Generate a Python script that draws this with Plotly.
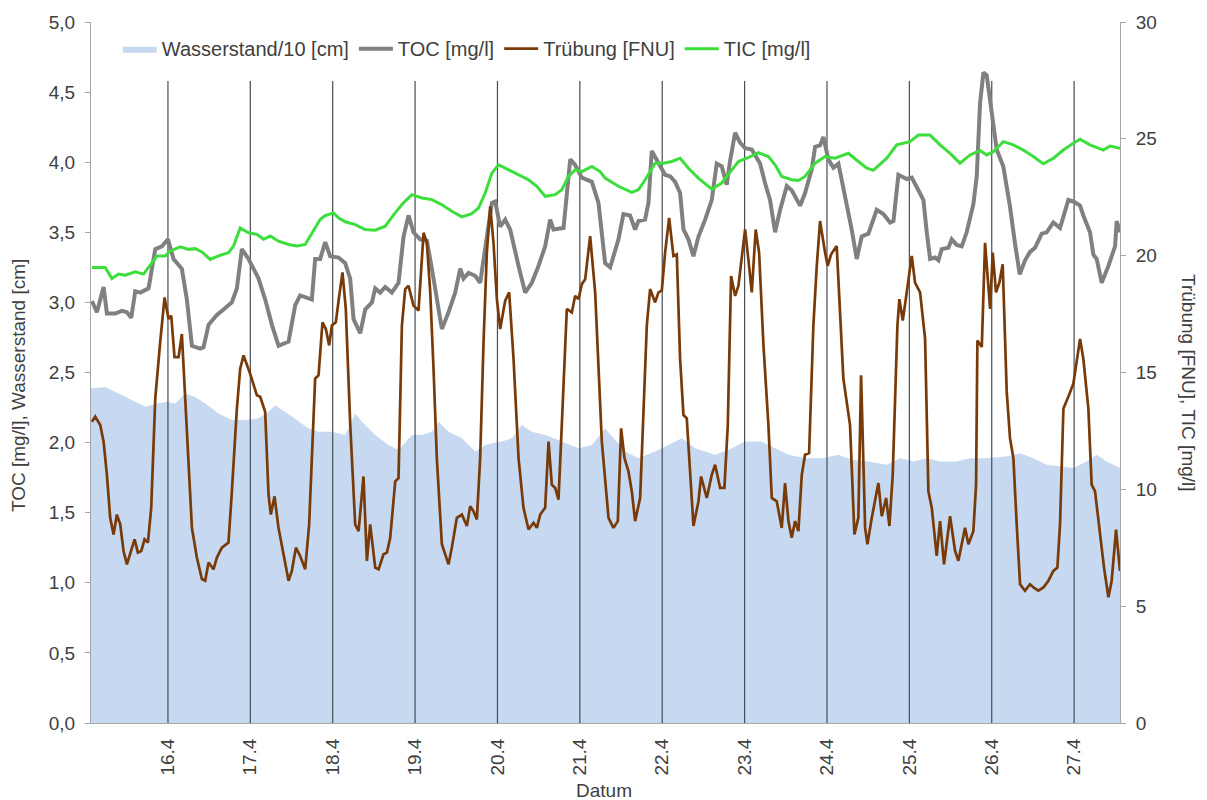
import plotly.graph_objects as go

# ---- Zeitachse: Tag im April (Bruchteil = Uhrzeit) ----
day_ticks = [16, 17, 18, 19, 20, 21, 22, 23, 24, 25, 26, 27]
day_labels = ["16.4", "17.4", "18.4", "19.4", "20.4", "21.4", "22.4", "23.4", "24.4", "25.4", "26.4", "27.4"]
x_start, x_end = 15.066, 27.557
marker_top = 4.58   # obere Kante der Tagesmarkierungen (linke Achse)

# ---- Wasserstand/10 [cm] ----
ws_day = [15.066, 15.239, 15.401, 15.562, 15.724, 15.866, 15.987, 16.088, 16.210, 16.331, 16.452, 16.614,
          16.776, 16.938, 17.100, 17.221, 17.302, 17.423, 17.585, 17.707, 17.828, 17.990, 18.152, 18.273,
          18.354, 18.516, 18.678, 18.799, 18.961, 19.082, 19.204, 19.285, 19.406, 19.568, 19.730, 19.851,
          19.932, 20.053, 20.175, 20.296, 20.417, 20.579, 20.781, 20.984, 21.146, 21.307, 21.550, 21.712,
          21.914, 22.076, 22.237, 22.399, 22.642, 22.804, 23.006, 23.208, 23.370, 23.532, 23.734, 23.937,
          24.139, 24.300, 24.503, 24.726, 24.887, 25.049, 25.211, 25.373, 25.575, 25.737, 25.899, 26.182,
          26.344, 26.506, 26.667, 26.829, 26.991, 27.153, 27.274, 27.395, 27.557]
ws_val = [2.385, 2.397, 2.350, 2.303, 2.255, 2.279, 2.291, 2.279, 2.350, 2.326, 2.279, 2.208,
          2.161, 2.161, 2.173, 2.220, 2.267, 2.220, 2.149, 2.101, 2.078, 2.078, 2.054, 2.208,
          2.149, 2.054, 1.983, 1.948, 2.054, 2.054, 2.078, 2.149, 2.078, 2.031, 1.936, 1.983,
          1.995, 2.007, 2.031, 2.125, 2.078, 2.054, 2.007, 1.960, 1.983, 2.101, 1.936, 1.889,
          1.936, 1.983, 2.031, 1.960, 1.913, 1.948, 2.007, 2.007, 1.960, 1.913, 1.889, 1.889,
          1.913, 1.877, 1.865, 1.842, 1.889, 1.865, 1.889, 1.865, 1.865, 1.889, 1.889, 1.901,
          1.924, 1.889, 1.842, 1.830, 1.818, 1.865, 1.913, 1.865, 1.818]

# ---- TOC [mg/l] ----
toc_day = [15.077, 15.138, 15.219, 15.259, 15.360, 15.441, 15.502, 15.555, 15.603, 15.664, 15.765, 15.846,
           15.927, 16.000, 16.068, 16.169, 16.230, 16.291, 16.392, 16.432, 16.493, 16.594, 16.675, 16.776,
           16.837, 16.897, 16.978, 17.100, 17.181, 17.262, 17.343, 17.464, 17.545, 17.605, 17.747, 17.787,
           17.848, 17.909, 17.969, 18.071, 18.152, 18.212, 18.253, 18.334, 18.395, 18.476, 18.516, 18.577,
           18.637, 18.718, 18.799, 18.860, 18.921, 18.981, 19.062, 19.143, 19.204, 19.285, 19.325, 19.406,
           19.487, 19.548, 19.588, 19.649, 19.730, 19.790, 19.851, 19.932, 19.972, 20.033, 20.094, 20.154,
           20.256, 20.336, 20.417, 20.498, 20.579, 20.640, 20.680, 20.802, 20.883, 20.943, 21.024, 21.146,
           21.226, 21.307, 21.368, 21.469, 21.529, 21.610, 21.671, 21.712, 21.792, 21.833, 21.873, 21.934,
           21.995, 22.035, 22.096, 22.157, 22.217, 22.258, 22.318, 22.379, 22.440, 22.521, 22.601, 22.662,
           22.723, 22.783, 22.824, 22.885, 22.945, 23.006, 23.087, 23.148, 23.188, 23.249, 23.309, 23.370,
           23.431, 23.512, 23.572, 23.674, 23.734, 23.815, 23.856, 23.916, 23.957, 24.017, 24.078, 24.139,
           24.220, 24.300, 24.361, 24.422, 24.503, 24.564, 24.604, 24.685, 24.766, 24.807, 24.867, 24.968,
           25.029, 25.110, 25.171, 25.211, 25.252, 25.312, 25.353, 25.393, 25.474, 25.514, 25.575, 25.636,
           25.696, 25.777, 25.818, 25.858, 25.899, 25.939, 26.000, 26.060, 26.140, 26.220, 26.280, 26.340,
           26.404, 26.465, 26.526, 26.607, 26.667, 26.708, 26.748, 26.829, 26.890, 26.930, 26.991, 27.072,
           27.112, 27.193, 27.234, 27.274, 27.335, 27.416, 27.497, 27.517, 27.557]
toc_val = [3.01, 2.93, 3.11, 2.92, 2.92, 2.94, 2.93, 2.89, 3.08, 3.07, 3.10, 3.38,
           3.40, 3.45, 3.31, 3.24, 3.02, 2.69, 2.67, 2.68, 2.84, 2.91, 2.95, 3.00,
           3.10, 3.38, 3.31, 3.17, 3.02, 2.84, 2.69, 2.72, 2.98, 3.05, 3.02, 3.31,
           3.31, 3.43, 3.33, 3.32, 3.28, 3.17, 2.88, 2.78, 2.95, 3.00, 3.10, 3.07,
           3.11, 3.07, 3.14, 3.47, 3.62, 3.50, 3.45, 3.44, 3.24, 2.93, 2.81, 2.93,
           3.07, 3.24, 3.17, 3.21, 3.19, 3.14, 3.38, 3.71, 3.72, 3.54, 3.59, 3.52,
           3.26, 3.07, 3.14, 3.26, 3.40, 3.59, 3.52, 3.53, 4.02, 3.98, 3.89, 3.86,
           3.71, 3.28, 3.25, 3.45, 3.63, 3.62, 3.52, 3.58, 3.59, 3.71, 4.08, 4.02,
           3.95, 3.91, 3.90, 3.86, 3.78, 3.52, 3.45, 3.33, 3.47, 3.59, 3.73, 3.99,
           3.97, 3.84, 4.01, 4.21, 4.14, 4.10, 4.09, 4.03, 3.99, 3.85, 3.73, 3.50,
           3.66, 3.83, 3.80, 3.69, 3.78, 3.95, 4.11, 4.12, 4.18, 4.02, 3.96, 3.99,
           3.76, 3.52, 3.31, 3.47, 3.49, 3.59, 3.66, 3.63, 3.57, 3.58, 3.91, 3.88,
           3.89, 3.80, 3.73, 3.50, 3.31, 3.32, 3.30, 3.38, 3.39, 3.45, 3.41, 3.40,
           3.50, 3.70, 3.90, 4.42, 4.64, 4.62, 4.35, 4.09, 3.97, 3.69, 3.43, 3.20,
           3.30, 3.36, 3.39, 3.49, 3.50, 3.54, 3.57, 3.53, 3.64, 3.73, 3.72, 3.69,
           3.62, 3.50, 3.34, 3.31, 3.14, 3.26, 3.40, 3.58, 3.50]

# ---- Trübung [FNU] ----
trueb_day = [15.077, 15.117, 15.178, 15.219, 15.259, 15.299, 15.340, 15.380, 15.421, 15.461, 15.502, 15.542,
             15.595, 15.635, 15.676, 15.716, 15.757, 15.797, 15.846, 15.906, 15.959, 16.007, 16.040, 16.080,
             16.129, 16.169, 16.210, 16.250, 16.291, 16.351, 16.412, 16.452, 16.493, 16.553, 16.594, 16.655,
             16.735, 16.776, 16.837, 16.877, 16.918, 16.998, 17.039, 17.079, 17.120, 17.180, 17.221, 17.249,
             17.294, 17.342, 17.403, 17.464, 17.504, 17.553, 17.605, 17.666, 17.714, 17.787, 17.828, 17.876,
             17.917, 17.957, 17.990, 18.038, 18.079, 18.119, 18.159, 18.213, 18.273, 18.314, 18.374, 18.415,
             18.455, 18.516, 18.557, 18.617, 18.658, 18.698, 18.759, 18.799, 18.840, 18.880, 18.921, 18.981,
             19.042, 19.103, 19.143, 19.184, 19.224, 19.264, 19.325, 19.406, 19.446, 19.507, 19.568, 19.629,
             19.669, 19.709, 19.750, 19.790, 19.831, 19.871, 19.912, 19.952, 19.993, 20.033, 20.094, 20.142,
             20.195, 20.256, 20.316, 20.377, 20.438, 20.478, 20.519, 20.579, 20.620, 20.660, 20.701, 20.741,
             20.781, 20.842, 20.903, 20.943, 20.984, 21.024, 21.065, 21.125, 21.186, 21.267, 21.348, 21.408,
             21.461, 21.501, 21.542, 21.590, 21.631, 21.671, 21.732, 21.772, 21.813, 21.853, 21.914, 21.954,
             21.995, 22.035, 22.084, 22.136, 22.177, 22.217, 22.258, 22.298, 22.339, 22.379, 22.440, 22.472,
             22.541, 22.601, 22.642, 22.703, 22.755, 22.796, 22.836, 22.885, 22.925, 23.006, 23.046, 23.087,
             23.135, 23.176, 23.229, 23.289, 23.330, 23.390, 23.451, 23.491, 23.532, 23.572, 23.613, 23.653,
             23.694, 23.734, 23.783, 23.835, 23.876, 23.916, 23.977, 24.009, 24.050, 24.118, 24.199, 24.280,
             24.333, 24.381, 24.414, 24.463, 24.491, 24.544, 24.624, 24.665, 24.718, 24.758, 24.798, 24.827,
             24.855, 24.879, 24.920, 24.968, 25.029, 25.069, 25.130, 25.191, 25.231, 25.272, 25.332, 25.373,
             25.421, 25.494, 25.555, 25.595, 25.676, 25.717, 25.777, 25.810, 25.826, 25.879, 25.919, 25.980,
             26.012, 26.052, 26.093, 26.133, 26.182, 26.222, 26.263, 26.303, 26.344, 26.404, 26.465, 26.506,
             26.566, 26.627, 26.688, 26.748, 26.797, 26.829, 26.870, 26.930, 26.991, 27.072, 27.112, 27.173,
             27.213, 27.254, 27.315, 27.363, 27.416, 27.456, 27.509, 27.537, 27.557]
trueb_val = [12.89, 13.11, 12.75, 12.04, 10.62, 8.78, 8.07, 8.92, 8.50, 7.36, 6.79, 7.22,
             7.86, 7.29, 7.36, 7.86, 7.72, 9.21, 13.89, 16.30, 18.21, 17.29, 17.43, 15.66,
             15.66, 16.65, 13.74, 10.62, 8.35, 7.08, 6.16, 6.09, 6.87, 6.58, 7.08, 7.50,
             7.72, 9.91, 13.46, 15.16, 15.73, 14.95, 14.52, 14.03, 13.96, 13.32, 9.77, 8.92,
             9.70, 8.35, 7.22, 6.09, 6.51, 7.50, 7.15, 6.58, 8.50, 14.74, 14.88, 17.15,
             16.86, 16.16, 17.01, 17.15, 18.28, 19.28, 17.72, 12.75, 8.50, 8.21, 10.55, 6.94,
             8.50, 6.65, 6.58, 7.22, 7.29, 7.93, 10.34, 10.48, 17.01, 18.57, 18.71, 17.86,
             17.65, 20.98, 20.55, 18.43, 15.16, 11.33, 7.65, 6.79, 7.50, 8.78, 8.92, 8.43,
             9.28, 9.06, 8.71, 11.33, 16.30, 20.13, 22.11, 20.55, 18.14, 16.86, 18.07, 18.43,
             15.59, 11.33, 9.21, 8.28, 8.57, 8.35, 8.92, 9.21, 12.04, 10.20, 10.06, 9.56,
             12.75, 17.72, 17.57, 18.28, 18.14, 18.78, 18.99, 20.84, 18.43, 12.04, 8.78, 8.35,
             8.64, 12.61, 11.33, 10.77, 9.91, 8.64, 9.63, 13.46, 17.01, 18.57, 18.00, 18.43,
             18.50, 20.13, 21.62, 19.99, 20.06, 15.59, 13.18, 13.04, 10.62, 8.43, 9.49, 10.55,
             9.63, 10.62, 11.05, 10.06, 10.06, 12.75, 19.13, 18.28, 18.71, 21.12, 19.84, 18.43,
             21.12, 20.13, 16.16, 12.75, 9.63, 9.49, 8.35, 10.27, 8.64, 7.93, 8.64, 8.21,
             10.62, 11.48, 11.55, 17.01, 19.56, 21.48, 20.13, 19.56, 20.06, 20.41, 14.74, 12.75,
             8.07, 8.78, 14.88, 8.35, 7.65, 8.78, 10.27, 8.85, 9.63, 8.43, 10.62, 14.17,
             17.01, 18.14, 17.22, 18.43, 19.99, 18.85, 18.43, 16.44, 9.91, 9.21, 7.15, 8.64,
             6.79, 8.85, 7.36, 6.94, 8.35, 7.65, 8.21, 10.20, 16.37, 16.09, 20.55, 17.72,
             20.13, 18.43, 18.85, 19.63, 14.17, 12.18, 11.33, 8.50, 5.94, 5.66, 5.94, 5.80,
             5.66, 5.80, 6.09, 6.51, 6.65, 8.50, 13.46, 13.96, 14.52, 16.44, 15.59, 13.46,
             10.20, 9.91, 7.93, 6.65, 5.38, 6.09, 8.28, 7.08, 6.51]

# ---- TIC [mg/l] ----
tic_day = [15.078, 15.239, 15.320, 15.400, 15.482, 15.603, 15.704, 15.806, 15.867, 15.967, 16.028, 16.149,
           16.250, 16.331, 16.413, 16.513, 16.614, 16.735, 16.796, 16.877, 16.978, 17.080, 17.160, 17.242,
           17.342, 17.464, 17.566, 17.666, 17.748, 17.848, 17.909, 18.010, 18.070, 18.152, 18.273, 18.394,
           18.516, 18.637, 18.758, 18.859, 18.961, 19.083, 19.204, 19.325, 19.447, 19.568, 19.689, 19.770,
           19.851, 19.932, 20.012, 20.134, 20.255, 20.376, 20.478, 20.579, 20.700, 20.782, 20.862, 20.943,
           21.024, 21.146, 21.246, 21.307, 21.469, 21.631, 21.711, 21.793, 21.914, 22.015, 22.117, 22.217,
           22.318, 22.439, 22.602, 22.723, 22.845, 22.925, 23.027, 23.168, 23.289, 23.370, 23.451, 23.573,
           23.653, 23.734, 23.856, 23.977, 24.098, 24.260, 24.381, 24.480, 24.563, 24.726, 24.847, 25.008,
           25.109, 25.251, 25.373, 25.494, 25.615, 25.737, 25.858, 25.939, 26.019, 26.141, 26.262, 26.383,
           26.505, 26.626, 26.748, 26.869, 26.990, 27.072, 27.193, 27.355, 27.435, 27.557]
tic_val = [19.49, 19.49, 19.02, 19.21, 19.16, 19.31, 19.21, 19.70, 19.99, 19.99, 20.20, 20.38,
           20.27, 20.30, 20.16, 19.84, 19.99, 20.13, 20.41, 21.19, 20.98, 20.91, 20.70, 20.84,
           20.62, 20.48, 20.41, 20.48, 20.98, 21.55, 21.72, 21.83, 21.62, 21.45, 21.33, 21.12,
           21.09, 21.26, 21.83, 22.26, 22.61, 22.47, 22.40, 22.18, 21.90, 21.66, 21.80, 22.04,
           22.68, 23.53, 23.89, 23.67, 23.46, 23.25, 22.97, 22.54, 22.61, 22.82, 23.39, 23.67,
           23.60, 23.82, 23.60, 23.32, 22.97, 22.71, 22.82, 23.25, 23.96, 23.96, 24.03, 24.17,
           23.74, 23.32, 22.85, 23.11, 23.67, 24.03, 24.17, 24.41, 24.24, 23.89, 23.39, 23.25,
           23.22, 23.39, 23.96, 24.24, 24.17, 24.38, 24.03, 23.75, 23.65, 24.17, 24.74, 24.88,
           25.16, 25.16, 24.74, 24.38, 23.96, 24.31, 24.50, 24.31, 24.45, 24.88, 24.74, 24.52,
           24.24, 23.93, 24.17, 24.52, 24.81, 24.98, 24.74, 24.52, 24.69, 24.60]

FONT = "Liberation Sans, Arial, sans-serif"
TXT = "#404040"
AXIS = "#a6a6a6"

fig = go.Figure()

fig.add_trace(go.Scatter(
    x=ws_day, y=ws_val, name="Wasserstand/10 [cm]", mode="lines",
    fill="tozeroy", fillcolor="rgb(198,217,240)", line=dict(width=0, color="rgb(198,217,240)"),
))

# Tagesmarkierungen um Mitternacht
vx, vy = [], []
for d in day_ticks:
    vx += [d, d, None]
    vy += [0, marker_top, None]
fig.add_trace(go.Scatter(
    x=vx, y=vy, mode="lines", showlegend=False, hoverinfo="skip",
    line=dict(color="rgb(72,76,84)", width=1.2),
))

fig.add_trace(go.Scatter(
    x=toc_day, y=toc_val, name="TOC [mg/l]", mode="lines",
    line=dict(color="rgb(128,128,128)", width=4),
))
fig.add_trace(go.Scatter(
    x=trueb_day, y=trueb_val, name="Trübung [FNU]", mode="lines", yaxis="y2",
    line=dict(color="rgb(120,58,8)", width=2.7),
))
fig.add_trace(go.Scatter(
    x=tic_day, y=tic_val, name="TIC [mg/l]", mode="lines", yaxis="y2",
    line=dict(color="rgb(60,222,60)", width=3),
))

fig.update_layout(
    width=1207, height=800,
    margin=dict(l=91, r=87, t=18, b=77),
    paper_bgcolor="white", plot_bgcolor="white",
    separators=",.",
    font=dict(family=FONT, size=19, color=TXT),
    showlegend=True,
    legend=dict(
        orientation="h", x=0.026, y=0.962, xanchor="left", yanchor="middle",
        bgcolor="rgba(0,0,0,0)", font=dict(size=20, color=TXT),
        itemwidth=34, traceorder="normal",
    ),
    xaxis=dict(
        range=[x_start, x_end], tickmode="array", tickvals=day_ticks, ticktext=day_labels,
        tickangle=-90, showgrid=False, zeroline=False, showline=True, linecolor=AXIS, linewidth=1,
        ticks="", ticklabelstandoff=7, tickfont=dict(size=19, color=TXT),
    ),
    yaxis=dict(
        range=[0, 5], dtick=0.5, tickformat=".1f", showgrid=False, zeroline=False,
        showline=True, linecolor=AXIS, linewidth=1, ticks="outside", ticklen=5, tickcolor=AXIS,
        ticklabelstandoff=6, tickfont=dict(size=19, color=TXT),
    ),
    yaxis2=dict(
        range=[0, 30], dtick=5, overlaying="y", side="right", showgrid=False, zeroline=False,
        showline=True, linecolor=AXIS, linewidth=1, ticks="outside", ticklen=5, tickcolor=AXIS,
        ticklabelstandoff=6, tickfont=dict(size=19, color=TXT),
    ),
    annotations=[
        dict(text="TOC [mg/l], Wasserstand [cm]", textangle=-90, xref="paper", yref="paper",
             x=-0.071, y=0.482, xanchor="center", yanchor="middle", showarrow=False,
             font=dict(size=19, color=TXT)),
        dict(text="Trübung [FNU], TIC [mg/l]", textangle=90, xref="paper", yref="paper",
             x=1.067, y=0.485, xanchor="center", yanchor="middle", showarrow=False,
             font=dict(size=19, color=TXT)),
        dict(text="Datum", xref="paper", yref="paper", x=0.4985, y=-0.096,
             xanchor="center", yanchor="middle", showarrow=False, font=dict(size=19, color=TXT)),
    ],
)

fig.write_html("out.html")
